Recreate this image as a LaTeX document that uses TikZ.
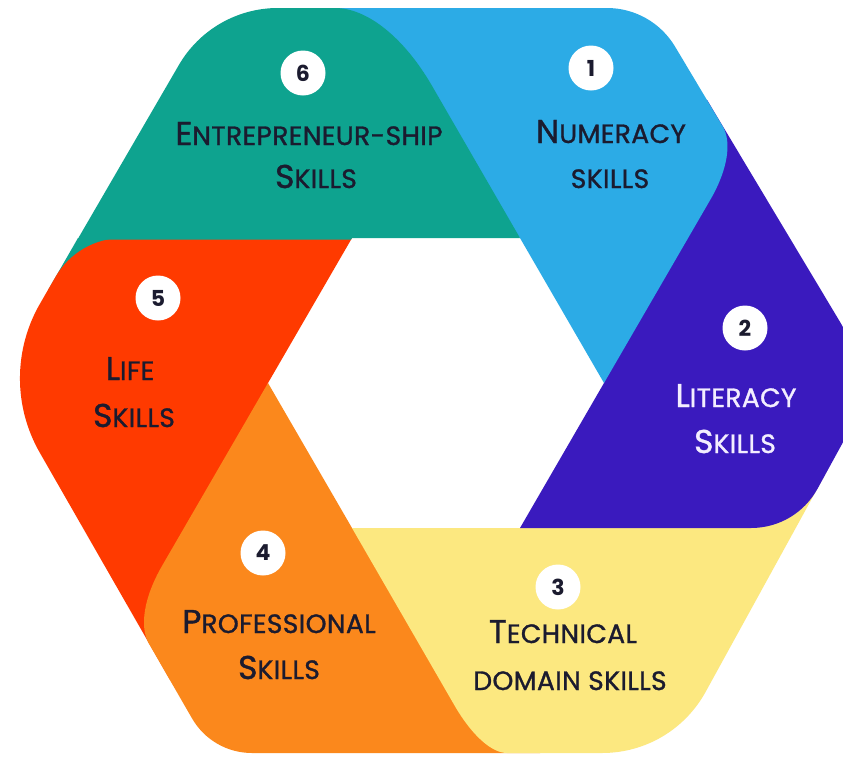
\documentclass[tikz,border=0pt]{standalone}
\usepackage{fontspec}
\setmainfont{Poppins}
\newfontfamily\lblfont{Poppins}[FakeBold=1.2, LetterSpace=1.5]
\usetikzlibrary{calc}
\definecolor{cteal}{HTML}{0EA38F}
\definecolor{clblue}{HTML}{2CABE6}
\definecolor{cdblue}{HTML}{3A1ABE}
\definecolor{cyellow}{HTML}{FCE880}
\definecolor{corange}{HTML}{FB881C}
\definecolor{cred}{HTML}{FF3A00}
\definecolor{ctext}{HTML}{1B1B2F}
\definecolor{clight}{HTML}{F3EEFF}
\newcommand\mysc[2]{{\fontsize{33}{33}\selectfont #1}{\fontsize{26.5}{26.5}\selectfont #2}}
\newcommand\mysm[1]{{\fontsize{26.5}{26.5}\selectfont #1}}
\tikzset{
  rc/.style n args={6}{insert path={-- ($(#2)!#4!(#1)$) .. controls ($(#2)!#6*#4!(#1)$) and ($(#2)!#6*#5!(#3)$) .. ($(#2)!#5!(#3)$)}},
  lbl/.style={anchor=base, inner sep=0pt, text=ctext, font=\lblfont},
  num/.style={circle, fill=white, minimum size=45pt, inner sep=0pt, text=ctext, font=\bfseries\fontsize{22}{22}\selectfont}
}
\begin{document}
\begin{tikzpicture}[x=1pt,y=-1pt]
\useasboundingbox (0,0) rectangle (843,758);
\clip (0,0) rectangle (843,758);
\fill[white] (0,0) rectangle (843,758);
% outer vertices
\coordinate (TL) at (212,8);
\coordinate (T1) at (387,8);
\coordinate (TR) at (652,8);
\coordinate (L1) at (738,152);
\coordinate (R) at (876,382);
\coordinate (D1) at (796,528);
\coordinate (BR) at (672,753);
\coordinate (O2) at (482,753);
\coordinate (BL) at (212,753);
\coordinate (O1) at (133,616);
\coordinate (L) at (-3,378);
\coordinate (R1) at (78,238);
\coordinate (R1b) at (77.5,239.5);
% inner vertices
\coordinate (iTL) at (352,238);
\coordinate (iTLb) at (351.1,239.5);
\coordinate (iTR) at (520,238);
\coordinate (iR) at (604,383);
\coordinate (iBR) at (520,528);
\coordinate (iBL) at (352,528);
\coordinate (iL) at (268,383);
% hidden helpers
\coordinate (lbx) at (300,8);
\coordinate (dbA) at (707.1,100);
\coordinate (dbB) at (670,200);
\coordinate (yA) at (600,470);
\coordinate (yB) at (827.6,470);
\coordinate (orA) at (440,600);
\coordinate (orB) at (540,753);
\coordinate (rA) at (200,560);
\coordinate (rB) at (170.1,680);
\coordinate (tpA) at (150,238);
\coordinate (tpB) at (100,290);
\coordinate (tpC) at (48.1,290);
% bands
\fill[cteal] (R1) -- (tpA) -- (tpB) -- (tpC) -- cycle;
\fill[cred] (iTL) -- (iL) -- (rA) -- (rB) [rc={rB}{L}{R1}{86pt}{86pt}{0.38}] [rc={L}{R1}{iTL}{45pt}{45pt}{0.38}] -- cycle;
\fill[corange] (iL) -- (iBL) -- (orA) -- (orB) [rc={orB}{BL}{O1}{40pt}{40pt}{0.38}] [rc={BL}{O1}{iL}{32pt}{58pt}{0.38}] -- cycle;
\fill[cyellow] (iBL) -- (iBR) -- (yA) -- (yB) [rc={yB}{BR}{O2}{70pt}{70pt}{0.38}] [rc={BR}{O2}{iBL}{25pt}{55pt}{0.38}] -- cycle;
\fill[cdblue] (iBR) -- (iR) -- (dbB) -- (dbA) [rc={dbA}{R}{D1}{70pt}{70pt}{0.38}] [rc={R}{D1}{iBR}{45pt}{45pt}{0.38}] -- cycle;
\fill[clblue] (iTR) -- (lbx) [rc={lbx}{TR}{L1}{45pt}{45pt}{0.38}] [rc={TR}{L1}{iR}{30pt}{55pt}{0.38}] -- (iR) -- cycle;
\fill[cteal] (iTR) -- (iTL) -- (iTLb) -- (R1b) [rc={R1b}{TL}{T1}{66pt}{66pt}{0.38}] [rc={TL}{T1}{iTR}{52pt}{90pt}{0.38}] -- cycle;
% numbers
\node[num] (n6) at (303,73) {6};
\node[num] (n1) at (591,68) {1};
\node[num] (n5) at (158,298) {5};
\node[num] (n2) at (745,328) {2};
\node[num] (n4) at (263,553) {4};
\node[num] (n3) at (558,587) {3};
% labels
\node[lbl] (t6a) at (309,145) {\mysc{E}{NTREPRENEUR-SHIP}};
\node[lbl] (t6b) at (316,188) {\mysc{S}{KILLS}};
\node[lbl] (t1a) at (611,143) {\mysc{N}{UMERACY}};
\node[lbl] (t1b) at (610,188) {\mysm{SKILLS}};
\node[lbl] (t5a) at (130,380) {\mysc{L}{IFE}};
\node[lbl] (t5b) at (134,427) {\mysc{S}{KILLS}};
\node[lbl, text=clight] (t2a) at (736,407) {\mysc{L}{ITERACY}};
\node[lbl, text=clight] (t2b) at (735,453) {\mysc{S}{KILLS}};
\node[lbl] (t4a) at (279,633) {\mysc{P}{ROFESSIONAL}};
\node[lbl] (t4b) at (279,679) {\mysc{S}{KILLS}};
\node[lbl] (t3a) at (563,643) {\mysc{T}{ECHNICAL}};
\node[lbl] (t3b) at (570,690) {\mysm{DOMAIN SKILLS}};
\end{tikzpicture}
\end{document}
